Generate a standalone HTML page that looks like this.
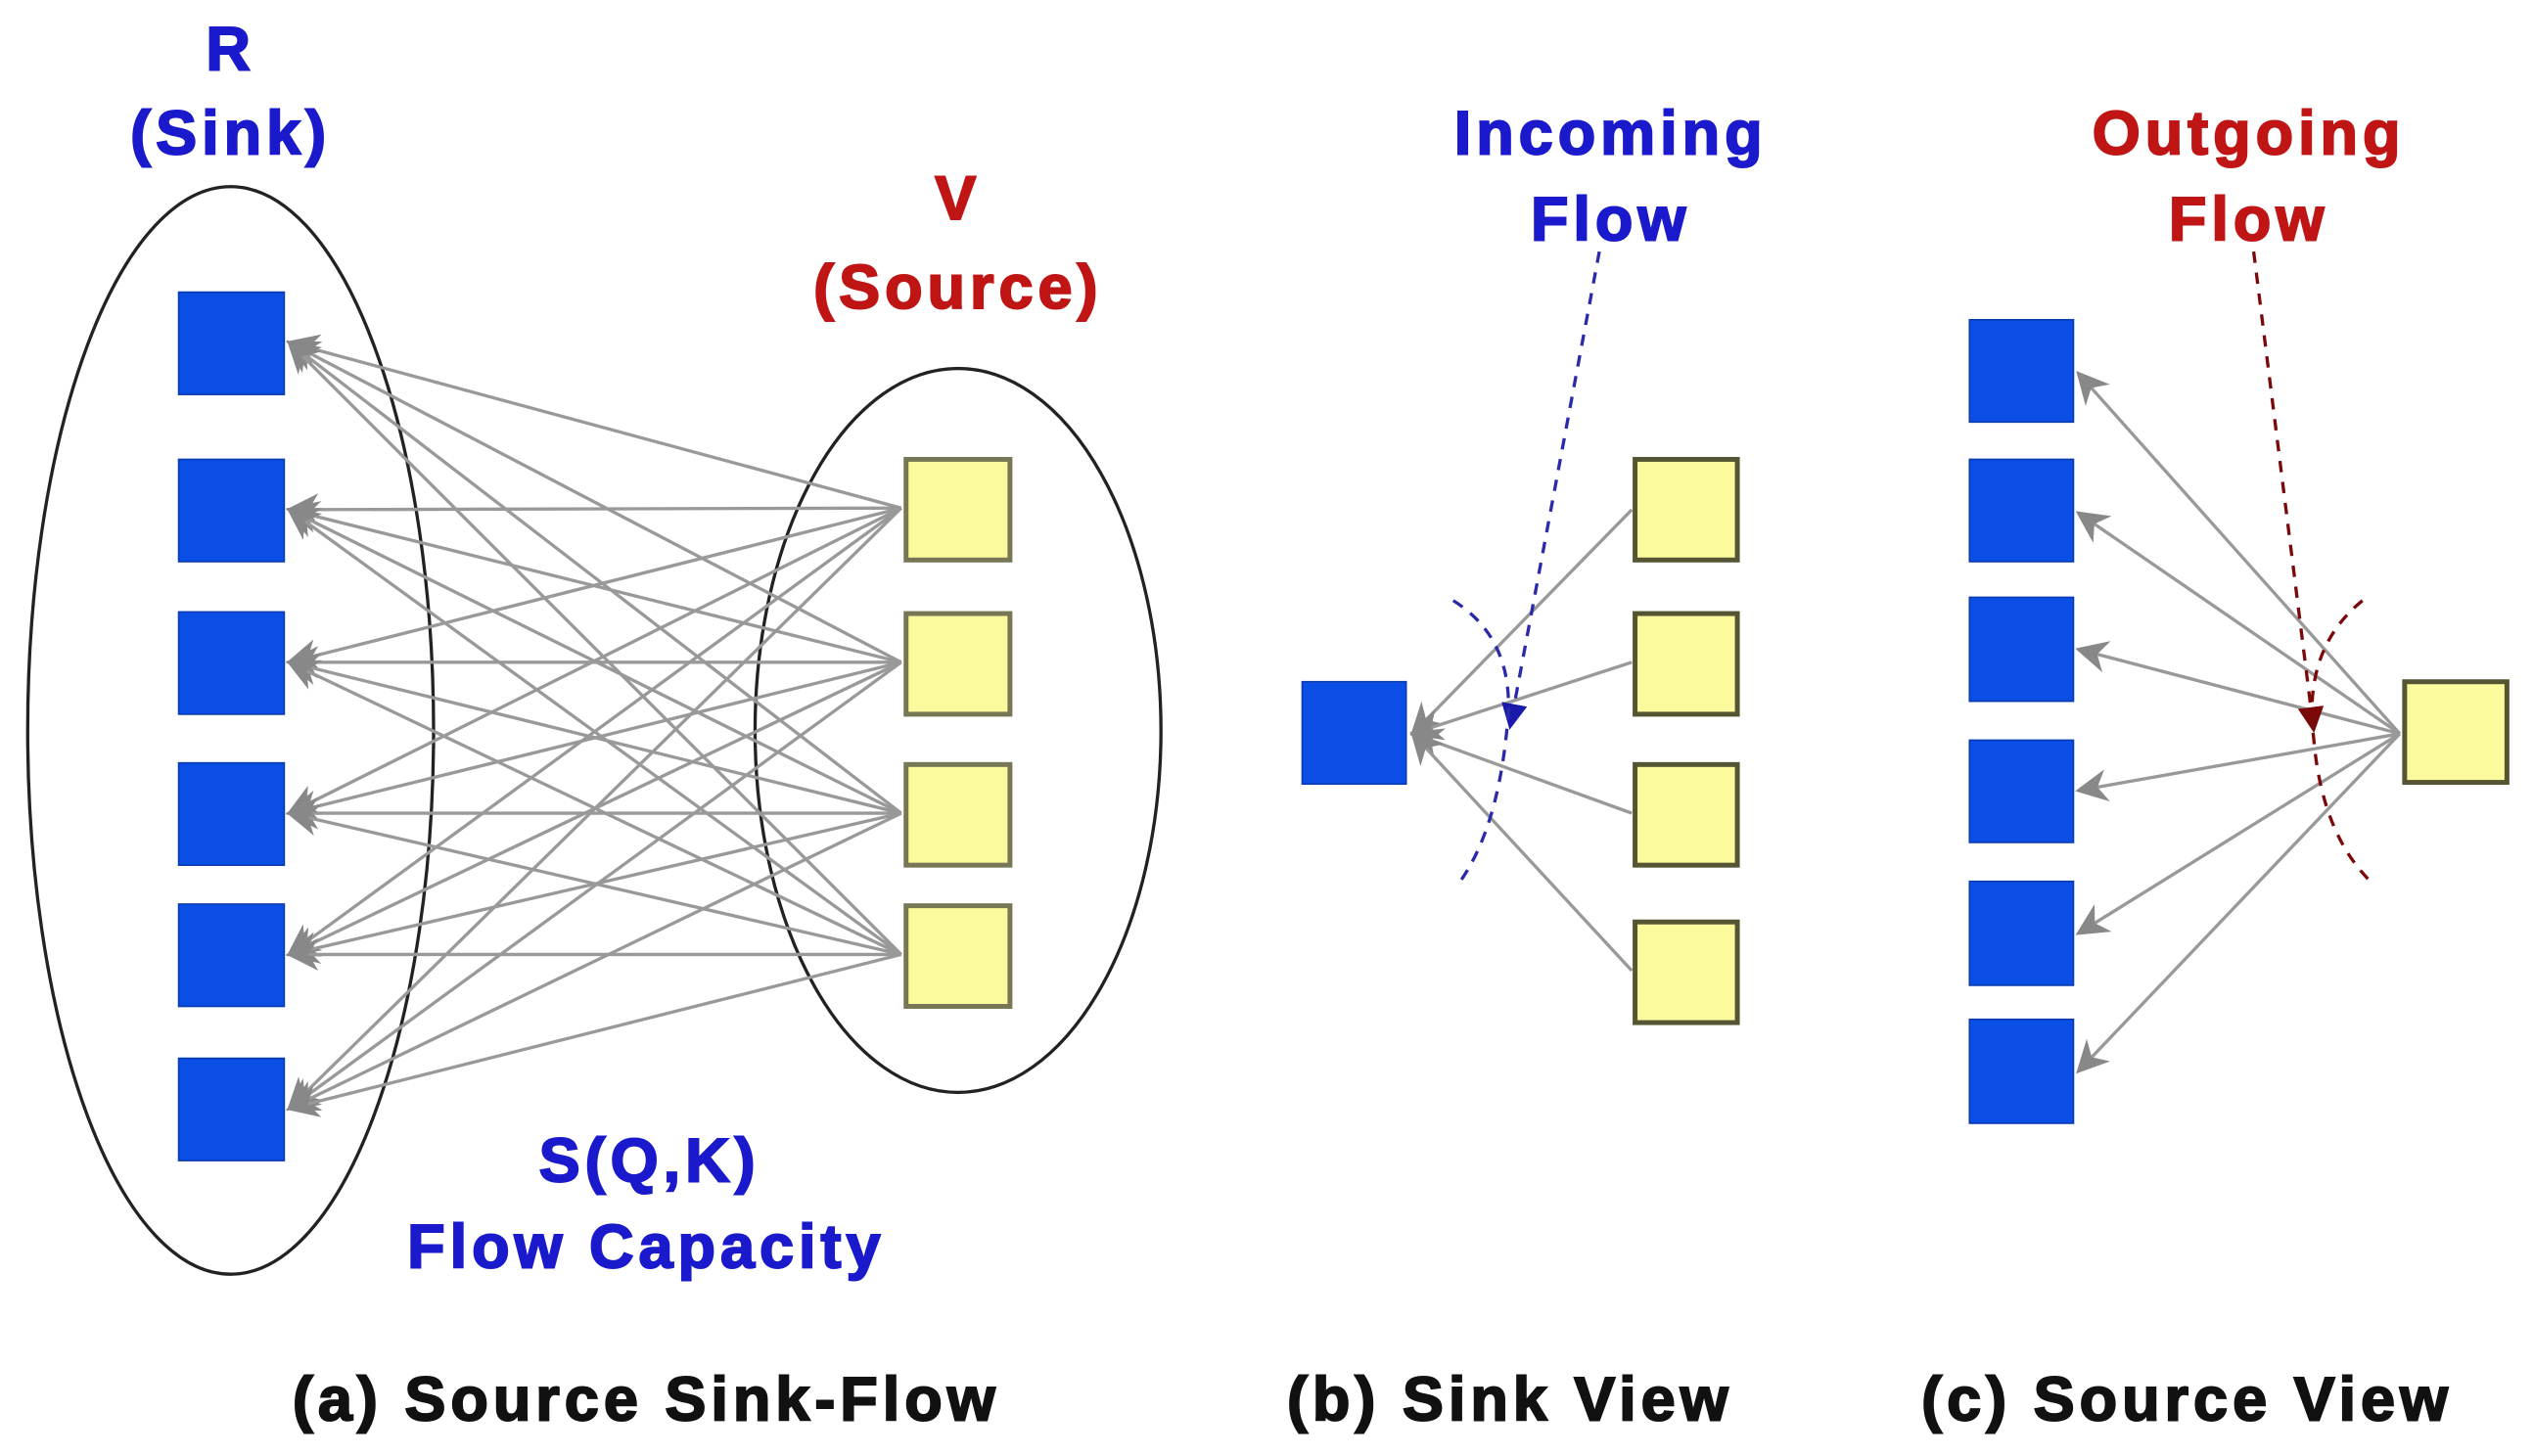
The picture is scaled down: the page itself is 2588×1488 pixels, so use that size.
<!DOCTYPE html>
<html><head><meta charset="utf-8"><style>
html,body{margin:0;padding:0;background:#fff;}
svg{display:block;}
text{font-family:"Liberation Sans",Arial,sans-serif;font-weight:bold;text-anchor:middle;letter-spacing:3px;stroke-width:1.2px;}
</style></head><body>
<svg width="2588" height="1488" viewBox="0 0 1560 897" xmlns="http://www.w3.org/2000/svg">
<defs>
<marker id="ah2" viewBox="0 0 10 10" refX="9" refY="5" markerWidth="20" markerHeight="20" orient="auto" markerUnits="userSpaceOnUse">
<path d="M0,0 L10,5 L0,10 L3,5 z" fill="#888"/></marker>
<marker id="ab" viewBox="0 0 10 10" refX="9" refY="5" markerWidth="16" markerHeight="16" orient="auto" markerUnits="userSpaceOnUse">
<path d="M0,0 L10,5 L0,10 z" fill="#1a1aaa"/></marker>
<marker id="ar" viewBox="0 0 10 10" refX="9" refY="5" markerWidth="16" markerHeight="16" orient="auto" markerUnits="userSpaceOnUse">
<path d="M0,0 L10,5 L0,10 z" fill="#7a0a0a"/></marker>
</defs>

<!-- (a) -->
<ellipse cx="142" cy="450" rx="125" ry="335" fill="none" stroke="#222" stroke-width="2"/>
<ellipse cx="590" cy="450" rx="125" ry="223" fill="none" stroke="#222" stroke-width="2"/>
<g stroke="#999" stroke-width="2" fill="none" marker-end="url(#ah2)">
<line x1="555" y1="313" x2="178" y2="211"/><line x1="555" y1="313" x2="178" y2="314"/><line x1="555" y1="313" x2="178" y2="408"/><line x1="555" y1="313" x2="178" y2="501"/><line x1="555" y1="313" x2="178" y2="588"/><line x1="555" y1="313" x2="178" y2="683"/>
<line x1="555" y1="408" x2="178" y2="211"/><line x1="555" y1="408" x2="178" y2="314"/><line x1="555" y1="408" x2="178" y2="408"/><line x1="555" y1="408" x2="178" y2="501"/><line x1="555" y1="408" x2="178" y2="588"/><line x1="555" y1="408" x2="178" y2="683"/>
<line x1="555" y1="501" x2="178" y2="211"/><line x1="555" y1="501" x2="178" y2="314"/><line x1="555" y1="501" x2="178" y2="408"/><line x1="555" y1="501" x2="178" y2="501"/><line x1="555" y1="501" x2="178" y2="588"/><line x1="555" y1="501" x2="178" y2="683"/>
<line x1="555" y1="588" x2="178" y2="211"/><line x1="555" y1="588" x2="178" y2="314"/><line x1="555" y1="588" x2="178" y2="408"/><line x1="555" y1="588" x2="178" y2="501"/><line x1="555" y1="588" x2="178" y2="588"/><line x1="555" y1="588" x2="178" y2="683"/>
</g>
<g fill="#0a4ee6" stroke="#0a3cb0" stroke-width="1">
<rect x="110" y="180" width="65" height="63"/><rect x="110" y="283" width="65" height="63"/><rect x="110" y="377" width="65" height="63"/><rect x="110" y="470" width="65" height="63"/><rect x="110" y="557" width="65" height="63"/><rect x="110" y="652" width="65" height="63"/>
</g>
<g fill="#fbfa9c" stroke="#777755" stroke-width="3">
<rect x="558" y="283" width="64" height="62"/><rect x="558" y="378" width="64" height="62"/><rect x="558" y="471" width="64" height="62"/><rect x="558" y="558" width="64" height="62"/>
</g>
<g font-size="38" fill="#1a1acc" stroke="#1a1acc">
<text x="142" y="43">R</text><text x="142" y="95">(Sink)</text>
<text x="400" y="728">S(Q,K)</text><text x="398" y="781">Flow Capacity</text>
</g>
<g font-size="38" fill="#c01515" stroke="#c01515">
<text x="590" y="135">V</text><text x="590" y="190">(Source)</text>
</g>

<!-- (b) -->
<g stroke="#999" stroke-width="2" fill="none" marker-end="url(#ah2)">
<line x1="1005" y1="314" x2="870" y2="452"/><line x1="1005" y1="408" x2="870" y2="452"/><line x1="1005" y1="501" x2="870" y2="452"/><line x1="1005" y1="598" x2="870" y2="452"/>
</g>
<rect x="802" y="420" width="64" height="63" fill="#0a4ee6" stroke="#0a3cb0"/>
<g fill="#fbfa9c" stroke="#555533" stroke-width="3">
<rect x="1007" y="283" width="63" height="62"/><rect x="1007" y="378" width="63" height="62"/><rect x="1007" y="471" width="63" height="62"/><rect x="1007" y="568" width="63" height="62"/>
</g>
<line x1="985" y1="155" x2="930" y2="448" stroke="#2a2aaa" stroke-width="2" stroke-dasharray="7,6" marker-end="url(#ab)"/>
<path d="M895,370 Q935,395 928,450 Q922,510 900,542" fill="none" stroke="#2a2aaa" stroke-width="2" stroke-dasharray="7,6"/>
<g font-size="38" fill="#1a1acc" stroke="#1a1acc"><text x="992" y="95">Incoming</text><text x="992" y="148">Flow</text></g>

<!-- (c) -->
<g stroke="#999" stroke-width="2" fill="none" marker-end="url(#ah2)">
<line x1="1478" y1="452" x2="1280" y2="230"/><line x1="1478" y1="452" x2="1280" y2="316"/><line x1="1478" y1="452" x2="1280" y2="400"/><line x1="1478" y1="452" x2="1280" y2="487"/><line x1="1478" y1="452" x2="1280" y2="575"/><line x1="1478" y1="452" x2="1280" y2="660"/>
</g>
<g fill="#0a4ee6" stroke="#0a3cb0" stroke-width="1">
<rect x="1213" y="197" width="64" height="63"/><rect x="1213" y="283" width="64" height="63"/><rect x="1213" y="368" width="64" height="64"/><rect x="1213" y="456" width="64" height="63"/><rect x="1213" y="543" width="64" height="64"/><rect x="1213" y="628" width="64" height="64"/>
</g>
<rect x="1481" y="420" width="63" height="62" fill="#fbfa9c" stroke="#555533" stroke-width="3"/>
<line x1="1388" y1="155" x2="1425" y2="450" stroke="#7a0a0a" stroke-width="2" stroke-dasharray="7,6" marker-end="url(#ar)"/>
<path d="M1455,370 Q1418,400 1425,455 Q1430,515 1462,545" fill="none" stroke="#7a0a0a" stroke-width="2" stroke-dasharray="7,6"/>
<g font-size="38" fill="#c01515" stroke="#c01515"><text x="1385" y="95">Outgoing</text><text x="1385" y="148">Flow</text></g>

<g font-size="38" fill="#111" stroke="#111">
<text x="398" y="875">(a) Source Sink-Flow</text>
<text x="930" y="875">(b) Sink View</text>
<text x="1347" y="875">(c) Source View</text>
</g>
</svg>
</body></html>
